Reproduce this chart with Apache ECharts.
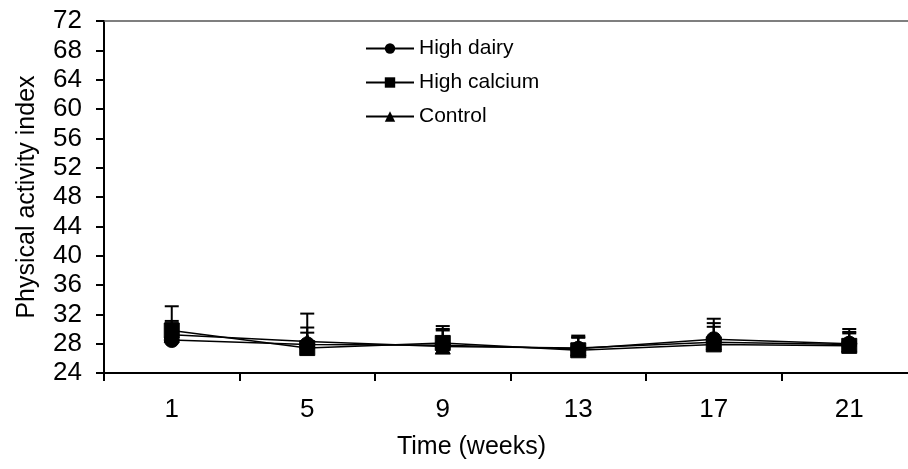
<!DOCTYPE html>
<html>
<head>
<meta charset="utf-8">
<script src="https://cdn.jsdelivr.net/npm/echarts@6/dist/echarts.min.js"></script>
<style>
  html, body { margin: 0; padding: 0; background: #fff; overflow: hidden; }
  /* a little wider than the window: the plot area runs past the right edge, as in the original */
  #main { width: 917px; height: 469px; }
</style>
</head>
<body>
<div id="main"></div>
<script>
const weeks = ['1', '5', '9', '13', '17', '21'];
const highDairy = [28.5, 27.9, 27.8, 27.3, 28.6, 28.0];
const highCalcium = [29.8, 27.4, 28.1, 27.1, 27.9, 27.7];
const control = [29.2, 28.3, 27.6, 27.4, 28.2, 27.9];
// upper error bar lengths (SD)
const dairyErr = [2.6, 2.3, 2.2, 1.5, 2.2, 1.6];
const calciumErr = [3.3, 2.1, 2.3, 2.0, 3.5, 2.3];
const controlErr = [1.6, 3.8, 2.2, 1.5, 2.1, 1.5];

const chart = echarts.init(document.getElementById('main'));
const font = 'Liberation Sans, Arial, sans-serif';

function errorSeries(name, means, errs) {
  return {
    name: name + ' SD',
    type: 'custom',
    z: 1,
    data: means.map((m, i) => [i, m, m + errs[i]]),
    renderItem: function (params, api) {
      const low = api.coord([api.value(0), api.value(1)]);
      const high = api.coord([api.value(0), api.value(2)]);
      const half = 7;
      const style = { stroke: '#000', lineWidth: 2 };
      return {
        type: 'group',
        children: [
          { type: 'line', shape: { x1: low[0], y1: low[1], x2: high[0], y2: high[1] }, style: style },
          { type: 'line', shape: { x1: high[0] - half, y1: high[1], x2: high[0] + half, y2: high[1] }, style: style }
        ]
      };
    }
  };
}

function lineSeries(name, values, symbol) {
  return {
    name: name,
    type: 'line',
    z: 3,
    data: values,
    symbol: symbol,
    symbolSize: 15,
    showSymbol: true,
    lineStyle: { color: '#000', width: 1.5 },
    itemStyle: { color: '#000', borderColor: '#000' }
  };
}

const option = {
  animation: false,
  backgroundColor: '#fff',
  grid: { left: 104, top: 21, right: 0, bottom: 96 },
  legend: {
    data: ['High dairy', 'High calcium', 'Control'],
    orient: 'vertical',
    left: 360,
    top: 33,
    itemWidth: 48,
    itemHeight: 13,
    itemGap: 13,
    textStyle: { fontFamily: font, fontSize: 21, color: '#000' }
  },
  xAxis: [{
    type: 'category',
    data: weeks,
    boundaryGap: true,
    name: 'Time (weeks)',
    nameLocation: 'middle',
    nameGap: 62,
    nameTextStyle: { fontFamily: font, fontSize: 25, color: '#000', padding: [0, 78, 0, 0] },
    axisLine: { lineStyle: { color: '#000', width: 2 } },
    axisTick: { show: true, inside: false, length: 8, lineStyle: { color: '#000', width: 2 } },
    axisLabel: { fontFamily: font, fontSize: 26, color: '#000', margin: 24 },
    splitLine: { show: false }
  }, {
    type: 'category',
    data: weeks,
    position: 'top',
    axisLine: { lineStyle: { color: '#555', width: 1.5 } },
    axisTick: { show: false },
    axisLabel: { show: false }
  }],
  yAxis: {
    type: 'value',
    min: 24,
    max: 72,
    interval: 4,
    name: 'Physical activity index',
    nameLocation: 'middle',
    nameGap: 64,
    nameTextStyle: { fontFamily: font, fontSize: 25, color: '#000' },
    axisLine: { show: true, lineStyle: { color: '#000', width: 2 } },
    axisTick: { show: true, inside: false, length: 8, lineStyle: { color: '#000', width: 2 } },
    axisLabel: { fontFamily: font, fontSize: 26, color: '#000', margin: 22 },
    splitLine: { show: false }
  },
  series: [
    errorSeries('High dairy', highDairy, dairyErr),
    errorSeries('High calcium', highCalcium, calciumErr),
    errorSeries('Control', control, controlErr),
    lineSeries('High dairy', highDairy, 'circle'),
    lineSeries('High calcium', highCalcium, 'rect'),
    lineSeries('Control', control, 'triangle')
  ]
};

chart.setOption(option);
</script>
</body>
</html>
